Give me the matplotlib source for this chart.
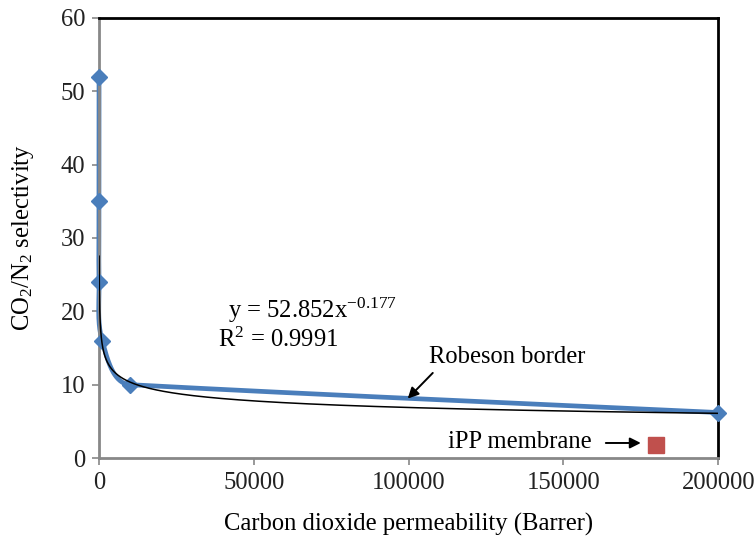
import numpy as np
import matplotlib.pyplot as plt

plt.rcParams['font.family'] = ['Liberation Serif', 'DejaVu Serif']
plt.rcParams['mathtext.fontset'] = 'custom'
plt.rcParams['mathtext.rm'] = 'Liberation Serif'
plt.rcParams['mathtext.it'] = 'Liberation Serif:italic'

# data
perm = [0, 0, 0, 1000, 10000, 200000]
selectivity = [52, 35, 24, 16, 10, 6.2]
ipp_perm = [180000]
ipp_sel = [1.8]
fit_a, fit_b = 52.852, -0.177
x_ticks = [0, 50000, 100000, 150000, 200000]
y_ticks = [0, 10, 20, 30, 40, 50, 60]


def smooth(xs, ys, sx, sy, n=60):
    # smoothed line through the points (bezier pieces), in pixel-ish units
    P = np.column_stack([np.array(xs, float) / sx, np.array(ys, float) / sy])
    seg = np.diff(P, axis=0)
    L = np.linalg.norm(seg, axis=1)
    u = seg / L[:, None]
    d = np.zeros_like(P)
    d[0], d[-1] = u[0], u[-1]
    for i in range(1, len(P) - 1):
        v = u[i - 1] * L[i - 1] ** 2 + u[i] * L[i] ** 2
        d[i] = v / np.linalg.norm(v)
    t = np.linspace(0, 1, n)[:, None]
    out = []
    for i in range(len(P) - 1):
        p1, p2 = P[i], P[i + 1]
        c1 = p1 + d[i] * L[i] / 3
        c2 = p2 - d[i + 1] * L[i] / 3
        out.append((1 - t) ** 3 * p1 + 3 * (1 - t) ** 2 * t * c1
                   + 3 * (1 - t) * t ** 2 * c2 + t ** 3 * p2)
    out = np.vstack(out)
    return out[:, 0] * sx, out[:, 1] * sy


fig = plt.figure(figsize=(7.56, 5.43), dpi=100)
ax = fig.add_axes([0.131, 0.1565, 0.819, 0.8105])

blue = '#4a7ebb'
cx, cy = smooth(perm, selectivity, 200000 / 618, 60 / 440)
ax.plot(cx, cy, color=blue, lw=3.4, zorder=2, clip_on=False,
        solid_capstyle='round', solid_joinstyle='round')
ax.plot(perm, selectivity, ls='none', marker='D', ms=8, color=blue,
        zorder=3, clip_on=False)

# power trendline
xf = np.geomspace(40, 200000, 4000)
ax.plot(xf, fit_a * xf ** fit_b, color='black', lw=1.1, zorder=4)

ax.plot(ipp_perm, ipp_sel, ls='none', marker='s', ms=11, color='#c0504d', zorder=3)

ax.set_xlim(0, 200000)
ax.set_ylim(0, 60)
ax.set_xticks(x_ticks)
ax.set_yticks(y_ticks)
ax.tick_params(labelsize=17.7, colors='#222222', length=5, width=1.2, pad=5)
ax.tick_params(axis='both', color='#888888')

for s in ('left', 'bottom'):
    ax.spines[s].set_color('#888888')
    ax.spines[s].set_linewidth(2)
for s in ('top', 'right'):
    ax.spines[s].set_color('black')
    ax.spines[s].set_linewidth(2)

ax.set_xlabel('Carbon dioxide permeability (Barrer)', fontsize=17.7, labelpad=14)
ax.set_ylabel(r'CO$_2$/N$_2$ selectivity', fontsize=17.7, labelpad=18)

ax.text(41500, 20.2, r'y = 52.852x$^{-0.177}$', fontsize=17.7, va='center')
ax.text(38500, 16.1, r'R$^2$ = 0.9991', fontsize=17.7, va='center')

ax.text(106500, 13.8, 'Robeson border', fontsize=17.7, va='center')
ax.annotate('', xy=(99700, 8.1), xytext=(107800, 11.6),
            arrowprops=dict(arrowstyle='-|>', color='black', lw=1.4,
                            shrinkA=0, shrinkB=0, mutation_scale=16))
ax.text(112600, 2.2, 'iPP membrane', fontsize=17.7, va='center')
ax.annotate('', xy=(175000, 2.05), xytext=(163700, 2.05),
            arrowprops=dict(arrowstyle='-|>', color='black', lw=1.4,
                            mutation_scale=16, shrinkA=0, shrinkB=0))

fig.savefig('out.png', dpi=100)
